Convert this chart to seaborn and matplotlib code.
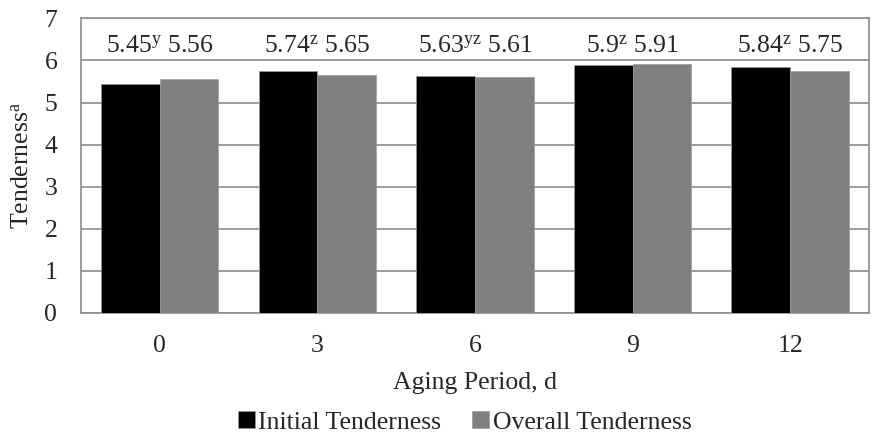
import pandas as pd
import matplotlib
matplotlib.use('Agg')
import matplotlib.pyplot as plt
import seaborn as sns

# aging days and mean tenderness scores
days = ['0', '3', '6', '9', '12']
initial = [5.45, 5.74, 5.63, 5.90, 5.84]
overall = [5.56, 5.65, 5.61, 5.91, 5.75]
initial_txt = ['5.45', '5.74', '5.63', '5.9', '5.84']
overall_txt = ['5.56', '5.65', '5.61', '5.91', '5.75']
letters = ['y', 'z', 'yz', 'z', 'z']
series = ['Initial Tenderness', 'Overall Tenderness']

sns.set_style('white')
plt.rcParams['font.family'] = ['Liberation Serif', 'DejaVu Serif']
plt.rcParams['mathtext.fontset'] = 'custom'
plt.rcParams['mathtext.rm'] = 'Liberation Serif'
plt.rcParams['mathtext.it'] = 'Liberation Serif'

fs = 18.5

df = pd.DataFrame({
    'day': days * 2,
    'value': initial + overall,
    'series': [series[0]] * 5 + [series[1]] * 5,
})

fig = plt.figure(figsize=(8.8, 4.37), dpi=100)
ax = fig.add_axes([0.092, 0.284, 0.8955, 0.674])
sns.barplot(data=df, x='day', y='value', hue='series', order=days,
            palette=['#000000', '#808080'], width=0.745, saturation=1,
            edgecolor='#9a9a9a', linewidth=0.5, ax=ax, zorder=3)

ax.set_ylim(0, 7)
ax.set_yticks(range(8))
ax.grid(axis='y', color='#8c8c8c', linewidth=1.2, zorder=0)
ax.set_axisbelow(True)
for sp in ax.spines.values():
    sp.set_color('#8c8c8c')
    sp.set_linewidth(1.2)
ax.tick_params(axis='y', length=0, labelsize=fs, pad=17)
ax.tick_params(axis='x', length=0, labelsize=fs, pad=16)

for i in range(len(days)):
    s = initial_txt[i] + r'$^{\mathrm{' + letters[i] + '}}$ ' + overall_txt[i]
    ax.text(i, 6.32, s, ha='center', va='center', fontsize=fs)

ax.set_xlabel('Aging Period, d', fontsize=fs)
ax.xaxis.set_label_coords(0.5, -0.202)
ax.set_ylabel(r'Tenderness$^{\mathrm{a}}$', fontsize=fs)
ax.yaxis.set_label_coords(-0.06, 0.5)

ax.legend(loc='center', bbox_to_anchor=(0.487, -0.372), ncol=2, frameon=False,
          fontsize=fs, handlelength=0.65, handleheight=0.65, handletextpad=0.15,
          columnspacing=1.2, borderaxespad=0)

fig.savefig('out.png', dpi=100)
plt.close(fig)
